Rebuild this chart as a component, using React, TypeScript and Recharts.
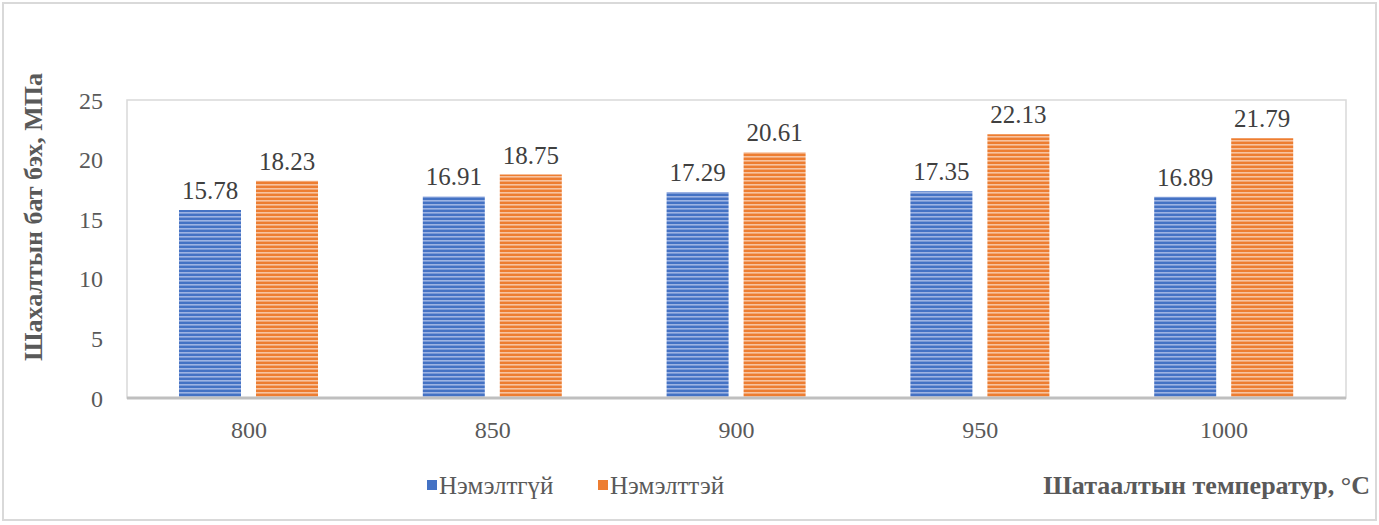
import React from 'react';
import {
  BarChart,
  Bar,
  XAxis,
  YAxis,
  LabelList,
  Legend,
  ReferenceArea,
} from 'recharts';

const temperatures = ['800', '850', '900', '950', '1000'];
const withoutAdditive = [15.78, 16.91, 17.29, 17.35, 16.89];
const withAdditive = [18.23, 18.75, 20.61, 22.13, 21.79];
const yTicks = [0, 5, 10, 15, 20, 25];

const seriesNames = ['Нэмэлтгүй', 'Нэмэлттэй'];
const yTitle = 'Шахалтын бат бэх, МПа';
const xTitle = 'Шатаалтын температур, °С';

const data = temperatures.map((t, i) => ({
  temp: t,
  a: withoutAdditive[i],
  b: withAdditive[i],
}));

const FONT = '"Liberation Serif", "DejaVu Serif", serif';
const TEXT_GRAY = '#595959';

function YTitle(props: any) {
  const { viewBox } = props;
  const x = 33;
  const y = viewBox.y + viewBox.height / 2 - 32;
  return (
    <text
      x={x}
      y={y}
      transform={`rotate(-90, ${x}, ${y})`}
      textAnchor="middle"
      dominantBaseline="central"
      fontFamily={FONT}
      fontWeight="bold"
      fontSize={26}
      fill={TEXT_GRAY}
    >
      {yTitle}
    </text>
  );
}

// legend drawn as an svg so the serif font is used the same way as the axes
function LegendBox() {
  const txt = { fontFamily: FONT, fontSize: 25, fill: TEXT_GRAY };
  return (
    <svg width={1379} height={30} style={{ display: 'block' }}>
      <rect x={427} y={10} width={10} height={10} fill="#4472C4" />
      <text x={439} y={15} dominantBaseline="central" {...txt}>
        {seriesNames[0]}
      </text>
      <rect x={598} y={10} width={10} height={10} fill="#ED7D31" />
      <text x={610} y={15} dominantBaseline="central" {...txt}>
        {seriesNames[1]}
      </text>
      <text
        x={1370}
        y={15}
        textAnchor="end"
        dominantBaseline="central"
        fontFamily={FONT}
        fontSize={26}
        fontWeight="bold"
        fill={TEXT_GRAY}
      >
        {xTitle}
      </text>
    </svg>
  );
}

export default function App() {
  return (
    <div style={{ position: 'absolute', left: 0, top: 0, width: 1379, height: 525, background: '#fff' }}>
      <BarChart
        width={1379}
        height={525}
        data={data}
        margin={{ top: 100, right: 33, bottom: 37, left: 0 }}
        barGap={15}
      >
        <defs>
          <pattern id="stripeBlue" width="8" height="4" patternUnits="userSpaceOnUse">
            <rect width="8" height="4" fill="#4472C4" />
            <rect width="8" height="1.6" fill="#9DB3E3" />
          </pattern>
          <pattern id="stripeOrange" width="8" height="4" patternUnits="userSpaceOnUse">
            <rect width="8" height="4" fill="#ED7D31" />
            <rect width="8" height="1.6" fill="#F7C3A0" />
          </pattern>
        </defs>
        <ReferenceArea y1={0} y2={25} fill="none" stroke="#d9d9d9" strokeWidth={1.5} />
        <XAxis
          dataKey="temp"
          height={60}
          tickLine={false}
          tickSize={0}
          tickMargin={23}
          axisLine={{ stroke: '#bfbfbf', strokeWidth: 3 }}
          tick={{ fontSize: 24, fill: TEXT_GRAY, fontFamily: FONT }}
        />
        <YAxis
          width={127}
          domain={[0, 25]}
          ticks={yTicks}
          tickLine={false}
          tickSize={0}
          tickMargin={24}
          axisLine={false}
          tick={{ fontSize: 24, fill: TEXT_GRAY, fontFamily: FONT }}
          label={<YTitle />}
        />
        <Legend
          verticalAlign="bottom"
          content={() => <LegendBox />}
          wrapperStyle={{ left: 0, top: 470, width: 1379, height: 30 }}
        />
        <Bar dataKey="a" name={seriesNames[0]} fill="url(#stripeBlue)" barSize={62} isAnimationActive={false}>
          <LabelList dataKey="a" position="top" offset={11} fontSize={25} fill="#404040" fontFamily={FONT} />
        </Bar>
        <Bar dataKey="b" name={seriesNames[1]} fill="url(#stripeOrange)" barSize={62} isAnimationActive={false}>
          <LabelList dataKey="b" position="top" offset={11} fontSize={25} fill="#404040" fontFamily={FONT} />
        </Bar>
      </BarChart>
      <div
        style={{
          position: 'absolute',
          left: 2,
          top: 2,
          width: 1375,
          height: 519,
          border: '2px solid #d9d9d9',
          boxSizing: 'border-box',
          pointerEvents: 'none',
        }}
      />
    </div>
  );
}
